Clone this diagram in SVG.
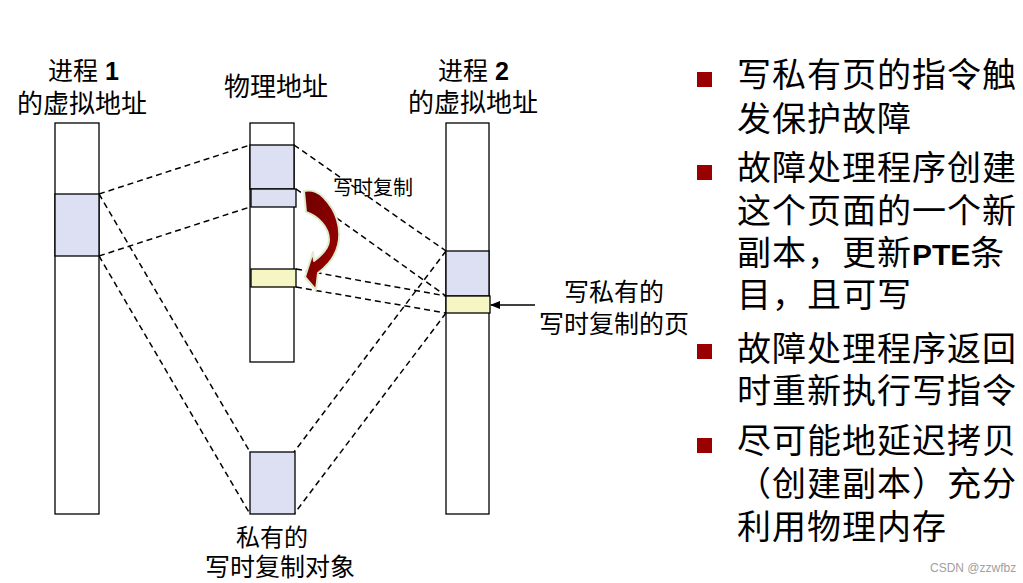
<svg xmlns="http://www.w3.org/2000/svg" width="1023" height="583" viewBox="0 0 1023 583">
<style>
.col{fill:#ffffff;stroke:#000;stroke-width:1.3}
.pur{fill:#dddff3;stroke:#000;stroke-width:1.3}
.yel{fill:#f6f5c4;stroke:#000;stroke-width:1.3}
.dash{stroke:#000;stroke-width:1.5;stroke-dasharray:6,4;fill:none}
.cjk{font-family:"Liberation Sans","Noto Sans CJK SC",sans-serif;fill:#000}
.big{font-size:34px;letter-spacing:1px}
.bul{fill:#990000}
</style>
<defs>
<linearGradient id="rg" x1="0" y1="0" x2="1" y2="1">
<stop offset="0" stop-color="#6e0000"/>
<stop offset="1" stop-color="#a00000"/>
</linearGradient>
<marker id="ah" markerWidth="10" markerHeight="10" refX="9" refY="5" orient="auto" markerUnits="userSpaceOnUse">
<path d="M0,1 L10,5 L0,9 Z" fill="#000"/>
</marker>
</defs>
<rect width="1023" height="583" fill="#fff"/>

<g id="connectors">
<line class="dash" x1="99" y1="194" x2="250" y2="145"/>
<line class="dash" x1="99" y1="256" x2="250" y2="207"/>
<line class="dash" x1="99" y1="194" x2="250" y2="452"/>
<line class="dash" x1="99" y1="256" x2="250" y2="514"/>
<line class="dash" x1="294" y1="145" x2="446" y2="251"/>
<line class="dash" x1="296" y1="189" x2="446" y2="296"/>
<line class="dash" x1="296" y1="269" x2="446" y2="296"/>
<line class="dash" x1="296" y1="287" x2="446" y2="313"/>
<line class="dash" x1="446" y1="251" x2="294" y2="452"/>
<line class="dash" x1="446" y1="313" x2="294" y2="514"/>
<line x1="535" y1="305" x2="491" y2="305" stroke="#000" stroke-width="1.5" marker-end="url(#ah)"/>
</g>

<g id="proc1">
<rect class="col" x="55" y="123" width="44" height="391"/>
<rect class="pur" x="55" y="194" width="44" height="62"/>
<text class="cjk" x="48" y="80" font-size="25">进程<tspan font-weight="bold"> 1</tspan></text>
<text class="cjk" x="82" y="113" font-size="26" text-anchor="middle">的虚拟地址</text>
</g>

<g id="phys">
<rect class="col" x="250" y="123" width="44" height="239"/>
<rect class="pur" x="250" y="145" width="44" height="44"/>
<rect class="pur" x="251" y="189" width="45" height="18"/>
<rect class="yel" x="251" y="269" width="45" height="18"/>
<text class="cjk" x="276" y="96" font-size="26" text-anchor="middle">物理地址</text>
</g>

<g id="proc2">
<rect class="col" x="446" y="123" width="43" height="391"/>
<rect class="pur" x="446" y="251" width="43" height="45"/>
<rect class="yel" x="446" y="296" width="44" height="17"/>
<text class="cjk" x="438" y="80" font-size="25">进程<tspan font-weight="bold"> 2</tspan></text>
<text class="cjk" x="473" y="112" font-size="26" text-anchor="middle">的虚拟地址</text>
</g>

<g id="cowobj">
<rect class="pur" x="250" y="452" width="45" height="62"/>
<text class="cjk" x="272" y="546" font-size="24" text-anchor="middle">私有的</text>
<text class="cjk" x="280" y="576" font-size="25" text-anchor="middle">写时复制对象</text>
</g>

<g id="cowarrow">
<path d="M304,191 C312,189 320,193 324,198 C336,210 342,228 338,245 C335,258 326,267 318,273 L316,290 L305,277 L313,252 L314,261 C322,255 329,248 329,240 C329,227 318,216 306,212 Z" fill="url(#rg)" stroke="#dfeccf" stroke-width="2" stroke-linejoin="round"/>
<text class="cjk" x="333" y="195" font-size="20">写时复制</text>
</g>

<g id="cowpage">
<text class="cjk" x="614" y="301" font-size="25" text-anchor="middle">写私有的</text>
<text class="cjk" x="614" y="333" font-size="25" text-anchor="middle">写时复制的页</text>
</g>

<g id="bullets">
<rect class="bul" x="697" y="72" width="15" height="15"/>
<text class="cjk big" x="737" y="87">写私有页的指令触</text>
<text class="cjk big" x="737" y="131">发保护故障</text>
<rect class="bul" x="697" y="165" width="15" height="15"/>
<text class="cjk big" x="737" y="180">故障处理程序创建</text>
<text class="cjk big" x="737" y="223">这个页面的一个新</text>
<text class="cjk big" x="737" y="265">副本，更新<tspan font-weight="bold" font-size="30" letter-spacing="0">PTE</tspan>条</text>
<text class="cjk big" x="737" y="307">目，且可写</text>
<rect class="bul" x="697" y="344" width="15" height="15"/>
<text class="cjk big" x="737" y="361">故障处理程序返回</text>
<text class="cjk big" x="737" y="403">时重新执行写指令</text>
<rect class="bul" x="697" y="438" width="15" height="15"/>
<text class="cjk big" x="737" y="453">尽可能地延迟拷贝</text>
<text class="cjk big" x="737" y="496">（创建副本）充分</text>
<text class="cjk big" x="737" y="539">利用物理内存</text>
</g>

<text x="930" y="572" font-family="Liberation Sans, sans-serif" font-size="12" fill="#a0a0a0">CSDN @zzwfbz</text>
</svg>
